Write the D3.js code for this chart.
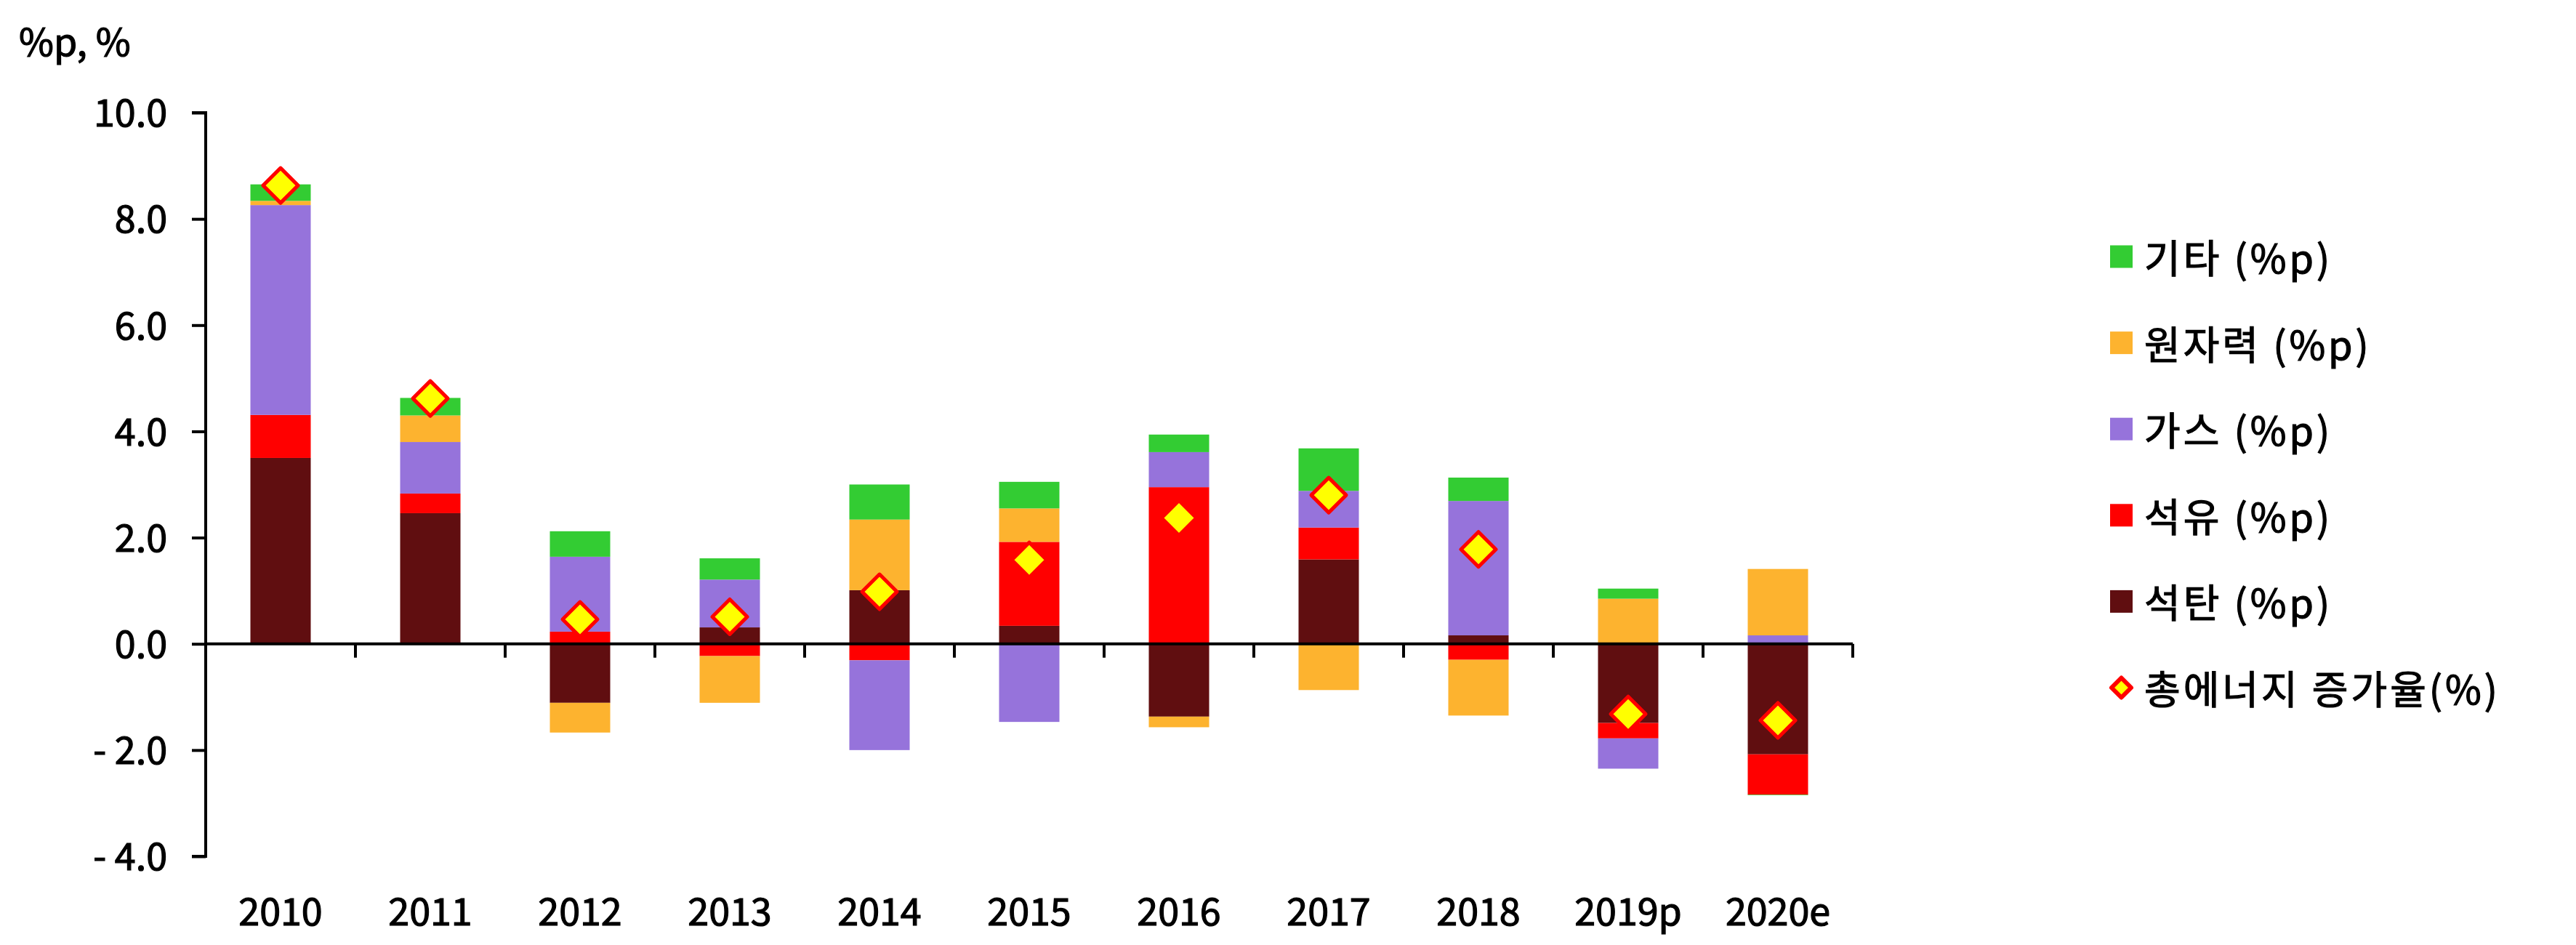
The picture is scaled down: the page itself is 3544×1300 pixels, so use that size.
<!DOCTYPE html>
<html>
<head>
<meta charset="utf-8">
<script src="https://cdn.jsdelivr.net/npm/d3@7"></script>
<style>
  html, body { margin: 0; padding: 0; background: #ffffff; }
  svg text { font-family: "Noto Sans CJK KR", "Noto Sans", sans-serif; fill: #000; stroke: #000; stroke-width: 1.2px; }
</style>
</head>
<body>
<svg id="chart" width="3544" height="1300"></svg>
<script>
// ---- data ----
const categories = ["2010","2011","2012","2013","2014","2015","2016","2017","2018","2019p","2020e"];
const coal    = [3.50, 2.46, -1.11,  0.31,  1.01,  0.34, -1.37,  1.59,  0.16, -1.49, -2.08];
const oil     = [0.81, 0.37,  0.23, -0.23, -0.31,  1.58,  2.95,  0.60, -0.30, -0.29, -0.76];
const gas     = [3.95, 0.97,  1.41,  0.90, -1.69, -1.47,  0.66,  0.69,  2.53, -0.57,  0.16];
const nuclear = [0.08, 0.50, -0.56, -0.88,  1.33,  0.63, -0.20, -0.87, -1.05,  0.85,  1.25];
const other   = [0.31, 0.33,  0.48,  0.40,  0.66,  0.50,  0.33,  0.80,  0.44,  0.19, -0.01];
const total   = [8.63, 4.62,  0.46,  0.51,  0.98,  1.58,  2.37,  2.80,  1.78, -1.32, -1.44];
const yTicks  = [10, 8, 6, 4, 2, 0, -2, -4];
const seriesKeys   = ["coal", "oil", "gas", "nuclear", "other"];
const seriesNames  = {coal: "석탄 (%p)", oil: "석유 (%p)", gas: "가스 (%p)", nuclear: "원자력 (%p)", other: "기타 (%p)"};
const seriesColors = {coal: "#600E10", oil: "#FF0000", gas: "#9673DB", nuclear: "#FDB32F", other: "#33CC33"};
const legendOrder  = ["other", "nuclear", "gas", "oil", "coal"];
const totalName    = "총에너지 증가율(%)";
const yAxisLabel   = "%p, %";

(function () {
// ---- build table ----
const seriesData = {coal, oil, gas, nuclear, other};
const table = categories.map((c, i) => {
  const row = {cat: c, total: total[i]};
  seriesKeys.forEach(k => row[k] = seriesData[k][i]);
  return row;
});

const svg = d3.select("#chart");
const pLeft = 283, pRight = 2549, pTop = 155, pBottom = 1178;

const x = d3.scaleBand().domain(categories).range([pLeft, pRight]).paddingInner(0.597).paddingOuter(0.2985);
const cell = d3.scaleBand().domain(categories).range([pLeft, pRight]).padding(0);
const y = d3.scaleLinear().domain([-4, 10]).range([pBottom, pTop]);

const stack = d3.stack().keys(seriesKeys).offset(d3.stackOffsetDiverging);
const stacked = stack(table);

// bars
svg.append("g").selectAll("g").data(stacked).join("g")
  .attr("fill", d => seriesColors[d.key])
  .selectAll("rect").data(d => d).join("rect")
  .attr("x", d => x(d.data.cat))
  .attr("width", x.bandwidth())
  .attr("y", d => y(Math.max(d[0], d[1])))
  .attr("height", d => Math.abs(y(d[0]) - y(d[1])));

// y axis
const yAxis = d3.axisLeft(y).tickValues(yTicks).tickSize(19).tickPadding(34)
  .tickFormat(v => v < 0 ? "- " + Math.abs(v).toFixed(1) : v.toFixed(1));
const gy = svg.append("g").attr("transform", `translate(${pLeft},0)`).call(yAxis);
gy.select(".domain").attr("stroke", "#000").attr("stroke-width", 4).attr("d", `M-19,${y(10)}H0V${y(-4)}H-19`);
gy.selectAll(".tick line").attr("stroke", "#000").attr("stroke-width", 4);
gy.selectAll(".tick text").attr("font-size", 52).attr("dy", "0.36em")
  .style("font-family", '"Noto Sans CJK KR", sans-serif');

// x axis at zero
const zeroY = y(0);
const gx = svg.append("g");
gx.append("line").attr("x1", pLeft).attr("x2", pRight).attr("y1", zeroY).attr("y2", zeroY)
  .attr("stroke", "#000").attr("stroke-width", 4);
gx.selectAll("line.tk").data(categories).join("line").attr("class", "tk")
  .attr("x1", d => cell(d) + cell.bandwidth()).attr("x2", d => cell(d) + cell.bandwidth())
  .attr("y1", zeroY).attr("y2", zeroY + 19)
  .attr("stroke", "#000").attr("stroke-width", 4);
gx.selectAll("text").data(categories).join("text")
  .attr("x", d => x(d) + x.bandwidth() / 2)
  .attr("y", 1273)
  .attr("text-anchor", "middle")
  .attr("font-size", 52)
  .text(d => d);

// diamonds
const dh = 24;
const diamond = `M0,${-dh}L${dh},0L0,${dh}L${-dh},0Z`;
svg.append("g").selectAll("path").data(table).join("path")
  .attr("d", diamond)
  .attr("transform", d => `translate(${x(d.cat) + x.bandwidth() / 2},${y(d.total)})`)
  .attr("fill", "#FFFF00").attr("stroke", "#FF0000").attr("stroke-width", 5)
  .attr("stroke-linejoin", "round");

// y label
svg.append("text").attr("x", 26).attr("y", 77).attr("font-size", 52).text(yAxisLabel);

// legend
const lg = svg.append("g");
const legendX = 2903, legendY0 = 353, legendStep = 118.6;
legendOrder.forEach((k, i) => {
  const cy = legendY0 + i * legendStep;
  lg.append("rect").attr("x", legendX).attr("y", cy - 15.5).attr("width", 31).attr("height", 31)
    .attr("fill", seriesColors[k]);
  lg.append("text").attr("x", 2950).attr("y", cy + 23).attr("font-size", 54)
    .attr("letter-spacing", 4).text(seriesNames[k]);
});
{
  const cy = legendY0 + 5 * legendStep;
  const h = 13.5;
  lg.append("path").attr("d", `M0,${-h}L${h},0L0,${h}L${-h},0Z`)
    .attr("transform", `translate(${legendX + 15.5},${cy})`)
    .attr("fill", "#FFFF00").attr("stroke", "#FF0000").attr("stroke-width", 6).attr("stroke-linejoin", "round");
  lg.append("text").attr("x", 2950).attr("y", cy + 23).attr("font-size", 54)
    .attr("letter-spacing", 4).text(totalName);
}
})();
</script>
</body>
</html>
